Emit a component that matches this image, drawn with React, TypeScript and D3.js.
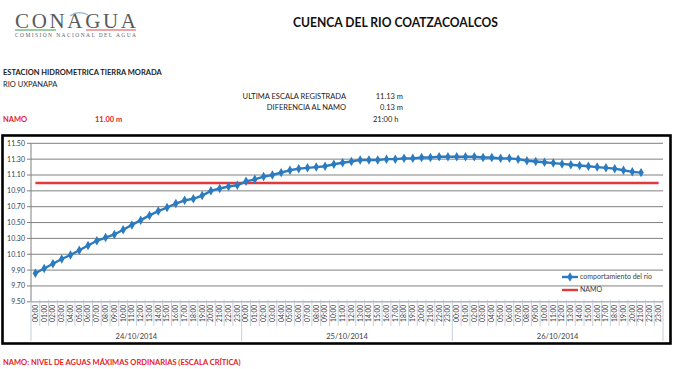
import React, { useEffect, useRef } from "react";
import * as d3 from "d3";

// Categories: three days, hourly readings
const days = ["24/10/2014", "25/10/2014", "26/10/2014"];
const hours = [
  "00:00", "01:00", "02:00", "03:00", "04:00", "05:00", "06:00", "07:00",
  "08:00", "09:00", "10:00", "11:00", "12:00", "13:00", "14:00", "15:00",
  "16:00", "17:00", "18:00", "19:00", "20:00", "21:00", "22:00", "23:00",
];

// Water level (m), null = no reading yet
const riverLevel: (number | null)[] = [
  // 24/10
  9.86, 9.92, 9.98, 10.04, 10.09, 10.15, 10.21, 10.27, 10.31, 10.35, 10.41, 10.47,
  10.53, 10.59, 10.645, 10.69, 10.74, 10.78, 10.8, 10.84, 10.9, 10.93, 10.955, 10.97,
  // 25/10
  11.02, 11.045, 11.08, 11.1, 11.13, 11.16, 11.18, 11.19, 11.2, 11.21, 11.235, 11.255,
  11.27, 11.29, 11.29, 11.29, 11.3, 11.3, 11.31, 11.31, 11.32, 11.32, 11.33, 11.33,
  // 26/10
  11.33, 11.33, 11.33, 11.32, 11.32, 11.31, 11.31, 11.3, 11.28, 11.27, 11.26, 11.25,
  11.24, 11.23, 11.22, 11.21, 11.2, 11.19, 11.18, 11.16, 11.14, 11.13, null, null,
];
const namoLevel = 11.0;
const yTicks = [9.5, 9.7, 9.9, 10.1, 10.3, 10.5, 10.7, 10.9, 11.1, 11.3, 11.5];

const FONT = "Lato, 'Open Sans', sans-serif";
const BLUE = "#2b7bc0";
const RED = "#e0393e";

const App: React.FC = () => {
  const svgRef = useRef<SVGSVGElement | null>(null);

  useEffect(() => {
    const width = 698;
    const height = 369;
    const plot = { left: 31, right: 663, top: 143.3, bottom: 301.8 };

    const categories = days.flatMap((d) => hours.map((h) => `${d} ${h}`));

    const xScale = d3
      .scaleBand<string>()
      .domain(categories)
      .range([plot.left, plot.right]);
    const bw = xScale.bandwidth();
    const cx = (i: number) => xScale(categories[i])! + bw / 2;

    const yScale = d3
      .scaleLinear()
      .domain([9.5, 11.5])
      .range([plot.bottom, plot.top]);

    const svg = d3
      .select(svgRef.current)
      .attr("width", width)
      .attr("height", height)
      .attr("font-family", FONT);
    svg.selectAll("*").remove();

    // ---- logo ----
    svg
      .append("text")
      .attr("x", 15)
      .attr("y", 27.5)
      .attr("font-family", "'Liberation Serif', 'DejaVu Serif', serif")
      .attr("font-size", 21)
      .attr("fill", "#5a5a5a")
      .attr("textLength", 121)
      .attr("lengthAdjust", "spacing")
      .text("CONAGUA");
    svg
      .append("path")
      .attr("d", "M70,16 Q78,10 88,15")
      .attr("fill", "none")
      .attr("stroke", "#8fb4d8")
      .attr("stroke-width", 1.2);
    svg.append("line").attr("x1", 15).attr("x2", 56).attr("y1", 30).attr("y2", 30)
      .attr("stroke", "#3c9a4a").attr("stroke-width", 1.2);
    svg.append("line").attr("x1", 86).attr("x2", 136).attr("y1", 30).attr("y2", 30)
      .attr("stroke", "#d94c4c").attr("stroke-width", 1.2);
    svg
      .append("text")
      .attr("x", 15)
      .attr("y", 37)
      .attr("font-family", "'Liberation Serif', 'DejaVu Serif', serif")
      .attr("font-size", 5.5)
      .attr("fill", "#666")
      .attr("textLength", 121)
      .attr("lengthAdjust", "spacing")
      .text("COMISIÓN NACIONAL DEL AGUA");

    // ---- title and header info ----
    svg
      .append("text")
      .attr("x", 293)
      .attr("y", 27)
      .attr("font-size", 13.5)
      .attr("font-weight", "bold")
      .attr("fill", "#111")
      .attr("textLength", 205)
      .attr("lengthAdjust", "spacingAndGlyphs")
      .text("CUENCA DEL RIO COATZACOALCOS");

    const info = (x: number, y: number, s: string, opts: any = {}) =>
      svg
        .append("text")
        .attr("x", x)
        .attr("y", y)
        .attr("font-size", opts.size || 7.5)
        .attr("font-weight", opts.bold ? "bold" : "normal")
        .attr("fill", opts.color || "#222")
        .attr("text-anchor", opts.anchor || "start")
        .text(s);

    info(3, 75, "ESTACION HIDROMETRICA TIERRA MORADA", { bold: true });
    info(3, 87, "RIO UXPANAPA");
    info(346, 99, "ULTIMA ESCALA REGISTRADA", { anchor: "end" });
    info(403, 99, "11.13 m", { anchor: "end" });
    info(346, 110, "DIFERENCIA AL NAMO", { anchor: "end" });
    info(403, 110, "0.13 m", { anchor: "end" });
    info(3, 122, "NAMO", { bold: true, color: "#e8201f" });
    info(95, 122, "11.00 m", { bold: true, color: "#e8201f" });
    info(373, 122, "21:00 h");

    // ---- chart frame ----
    svg
      .append("rect")
      .attr("x", 2.5)
      .attr("y", 135.5)
      .attr("width", 668)
      .attr("height", 208)
      .attr("fill", "#fff")
      .attr("stroke", "#000")
      .attr("stroke-width", 2.6);

    const g = svg.append("g");

    // gridlines
    g.selectAll("line.grid")
      .data(yTicks)
      .join("line")
      .attr("class", "grid")
      .attr("x1", plot.left)
      .attr("x2", plot.right)
      .attr("y1", (d) => yScale(d))
      .attr("y2", (d) => yScale(d))
      .attr("stroke", "#808080")
      .attr("stroke-width", 1);

    // y axis
    g.append("line")
      .attr("x1", plot.left).attr("x2", plot.left)
      .attr("y1", plot.top).attr("y2", plot.bottom)
      .attr("stroke", "#808080");
    g.selectAll("line.ytick")
      .data(yTicks)
      .join("line")
      .attr("class", "ytick")
      .attr("x1", plot.left - 4)
      .attr("x2", plot.left)
      .attr("y1", (d) => yScale(d))
      .attr("y2", (d) => yScale(d))
      .attr("stroke", "#808080");
    g.selectAll("text.ylab")
      .data(yTicks)
      .join("text")
      .attr("class", "ylab")
      .attr("x", plot.left - 6)
      .attr("y", (d) => yScale(d))
      .attr("dy", "0.35em")
      .attr("text-anchor", "end")
      .attr("font-size", 7)
      .attr("fill", "#404040")
      .text((d) => d.toFixed(2));

    // x axis (two-level category axis)
    const axisColor = "#b9c3d3";
    g.append("line")
      .attr("x1", plot.left).attr("x2", plot.right)
      .attr("y1", plot.bottom).attr("y2", plot.bottom)
      .attr("stroke", axisColor);
    const boundaries = d3.range(categories.length + 1);
    g.selectAll("line.xtick")
      .data(boundaries)
      .join("line")
      .attr("class", "xtick")
      .attr("x1", (i) => plot.left + i * bw)
      .attr("x2", (i) => plot.left + i * bw)
      .attr("y1", plot.bottom - 2)
      .attr("y2", (i) => (i % hours.length === 0 ? 341 : 326))
      .attr("stroke", axisColor)
      .attr("stroke-width", 0.8);
    g.selectAll("text.hour")
      .data(categories)
      .join("text")
      .attr("class", "hour")
      .attr("transform", (_, i) => `translate(${cx(i)},${plot.bottom + 3}) rotate(-90)`)
      .attr("dy", "0.35em")
      .attr("text-anchor", "end")
      .attr("font-size", 6.7)
      .attr("fill", "#404040")
      .text((_, i) => hours[i % hours.length]);
    g.selectAll("text.day")
      .data(days)
      .join("text")
      .attr("class", "day")
      .attr("x", (_, i) => plot.left + (i + 0.5) * hours.length * bw)
      .attr("y", 336)
      .attr("dy", "0.35em")
      .attr("text-anchor", "middle")
      .attr("font-size", 7.5)
      .attr("fill", "#404040")
      .text((d) => d);

    // NAMO line
    g.append("line")
      .attr("x1", cx(0))
      .attr("x2", cx(categories.length - 1))
      .attr("y1", yScale(namoLevel))
      .attr("y2", yScale(namoLevel))
      .attr("stroke", RED)
      .attr("stroke-width", 2.4);

    // river level line
    const line = d3
      .line<number | null>()
      .defined((d) => d != null)
      .x((_, i) => cx(i))
      .y((d) => yScale(d as number));
    g.append("path")
      .datum(riverLevel)
      .attr("fill", "none")
      .attr("stroke", BLUE)
      .attr("stroke-width", 2.4)
      .attr("d", line);
    const marker = d3.symbol().type(d3.symbolDiamond).size(26);
    g.selectAll("path.pt")
      .data(riverLevel.map((v, i) => ({ v, i })).filter((d) => d.v != null))
      .join("path")
      .attr("class", "pt")
      .attr("transform", (d) => `translate(${cx(d.i)},${yScale(d.v as number)})`)
      .attr("d", marker)
      .attr("fill", BLUE);

    // legend
    const lg = g.append("g");
    lg.append("line").attr("x1", 562).attr("x2", 578).attr("y1", 277).attr("y2", 277)
      .attr("stroke", BLUE).attr("stroke-width", 2.4);
    lg.append("path").attr("transform", "translate(570,277)").attr("d", marker).attr("fill", BLUE);
    lg.append("text").attr("x", 580).attr("y", 277).attr("dy", "0.35em")
      .attr("font-size", 7).attr("fill", "#404040").text("comportamiento del río");
    lg.append("line").attr("x1", 562).attr("x2", 578).attr("y1", 290).attr("y2", 290)
      .attr("stroke", RED).attr("stroke-width", 2.4);
    lg.append("text").attr("x", 580).attr("y", 290).attr("dy", "0.35em")
      .attr("font-size", 7).attr("fill", "#404040").text("NAMO");

    // footnote
    info(3, 365, "NAMO: NIVEL DE AGUAS MÁXIMAS ORDINARIAS (ESCALA CRÍTICA)", {
      bold: true,
      color: "#e8201f",
      size: 7.5,
    });
  }, []);

  return (
    <svg
      ref={svgRef}
      style={{ position: "absolute", left: 0, top: 0, display: "block", background: "#fff" }}
    ></svg>
  );
};

export default App;
